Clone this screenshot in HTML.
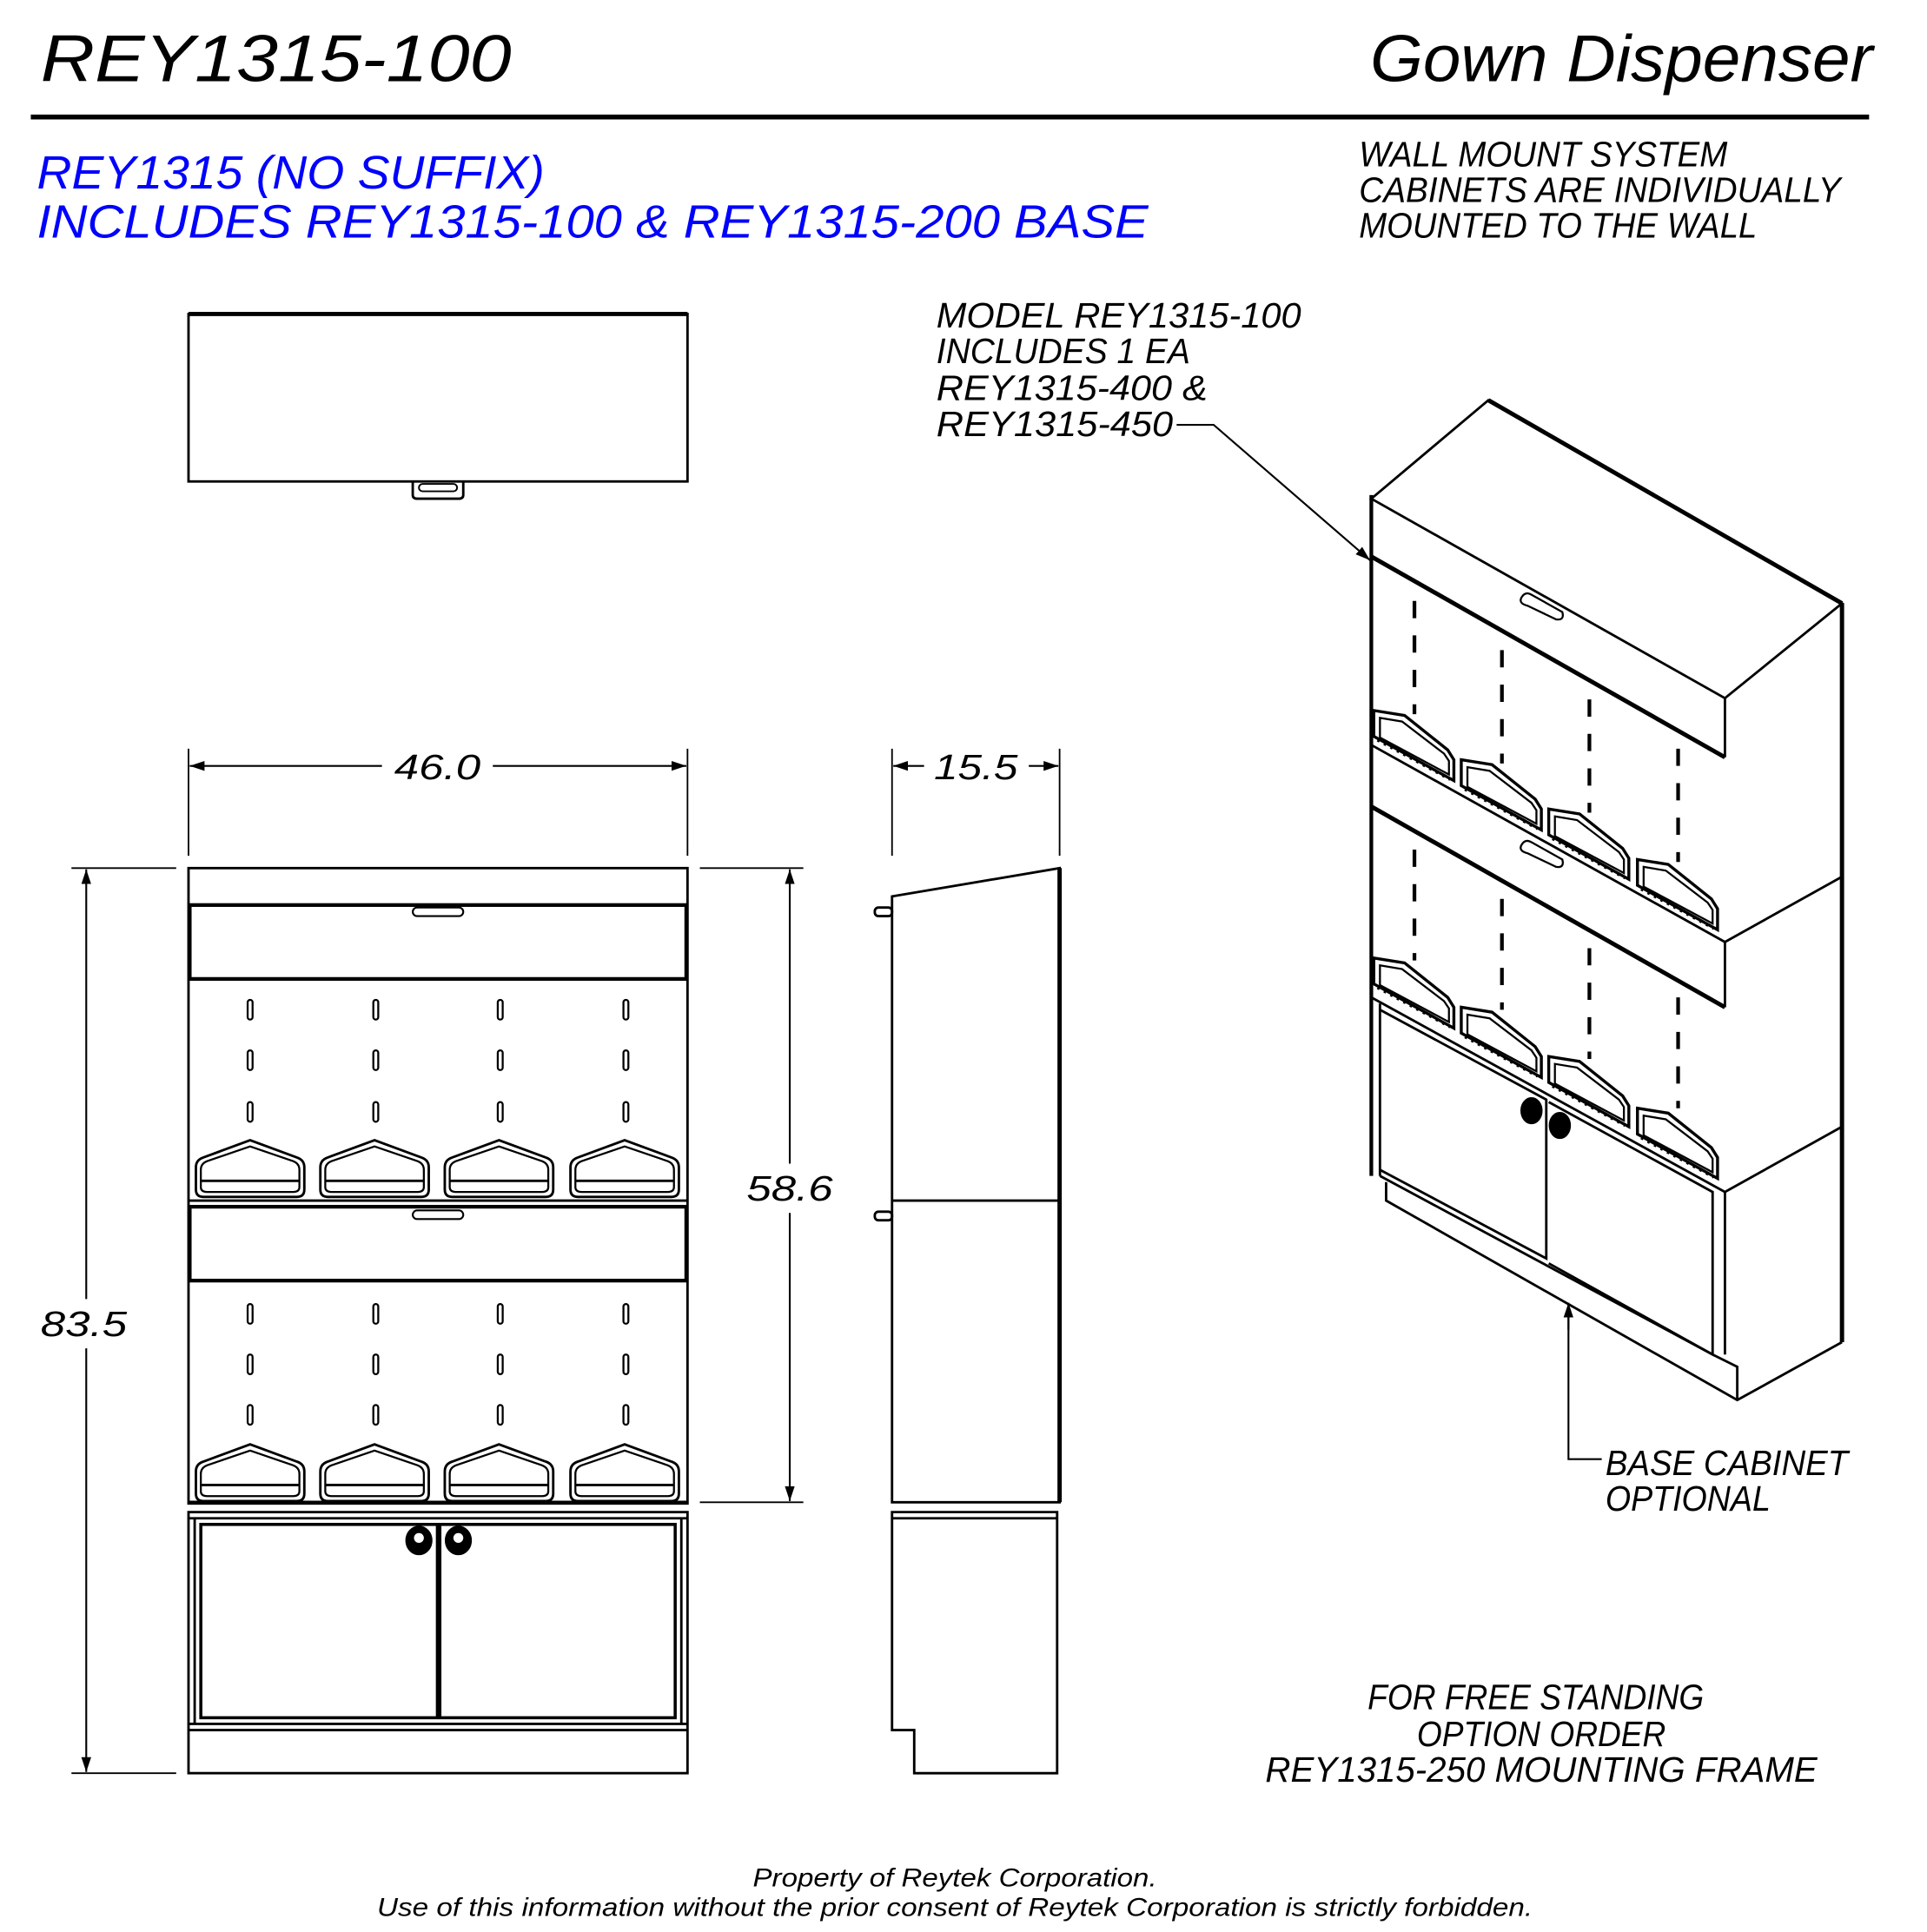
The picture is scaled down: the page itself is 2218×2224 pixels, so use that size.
<!DOCTYPE html>
<html><head><meta charset="utf-8"><style>html,body{margin:0;padding:0;background:#fff}svg{display:block}</style></head>
<body>
<svg width="2218" height="2224" viewBox="0 0 1564 1569" preserveAspectRatio="none" xmlns="http://www.w3.org/2000/svg">
<defs>
<marker id="ar" markerWidth="12" markerHeight="8" refX="12" refY="4" orient="auto" markerUnits="userSpaceOnUse"><path d="M0,0 L12,4 L0,8 z" fill="#000"/></marker>
<g id="tray">
<path d="M2,38 L2,20 Q2,14 8,12 L46,-2 L84,12 Q90,14 90,20 L90,38 Q90,44 84,44 L8,44 Q2,44 2,38 Z" fill="none" stroke="#000" stroke-width="2"/>
<path d="M6,36 L6,22 Q6,17 11,15 L46,3 L81,15 Q86,17 86,22 L86,36 Q86,40 81,40 L11,40 Q6,40 6,36 Z" fill="none" stroke="#000" stroke-width="1.6"/>
<line x1="6" y1="31" x2="86" y2="31" stroke="#000" stroke-width="2"/>
</g>
<g id="slot"><rect x="-2" y="0" width="4" height="16" rx="2" fill="none" stroke="#000" stroke-width="1.6"/></g>
<g id="itray" fill="none" stroke="#000">
<path d="M0,0 L25,4 L60,32 L65,40 L65,57 L0,21 Z" stroke-width="2.4"/>
<path d="M5,6 L23,9 L57,35 L61,41 L61,52 L5,22 Z" stroke-width="1.6"/>
<line x1="3" y1="24" x2="62" y2="56" stroke-width="2.5" stroke-dasharray="2 4"/>
</g>
</defs>
<g font-family="Liberation Sans, sans-serif" font-style="italic">
<text x="33" y="66" font-size="54" textLength="382" lengthAdjust="spacingAndGlyphs">REY1315-100</text>
<text x="1112" y="66" font-size="54" textLength="408" lengthAdjust="spacingAndGlyphs">Gown Dispenser</text>
<line x1="25" y1="95" x2="1517" y2="95" stroke="#000" stroke-width="4"/>
<g fill="#0000ff" font-size="38">
<text x="30" y="153" textLength="412" lengthAdjust="spacingAndGlyphs">REY1315 (NO SUFFIX)</text>
<text x="30" y="193" textLength="902" lengthAdjust="spacingAndGlyphs">INCLUDES REY1315-100 &amp; REY1315-200 BASE</text>
</g>
<g font-size="29">
<text x="1103" y="135" textLength="299" lengthAdjust="spacingAndGlyphs">WALL MOUNT SYSTEM</text>
<text x="1103" y="164" textLength="391" lengthAdjust="spacingAndGlyphs">CABINETS ARE INDIVIDUALLY</text>
<text x="1103" y="193" textLength="323" lengthAdjust="spacingAndGlyphs">MOUNTED TO THE WALL</text>
<text x="760" y="266" textLength="296" lengthAdjust="spacingAndGlyphs">MODEL REY1315-100</text>
<text x="760" y="295" textLength="206" lengthAdjust="spacingAndGlyphs">INCLUDES 1 EA</text>
<text x="760" y="325" textLength="220" lengthAdjust="spacingAndGlyphs">REY1315-400 &amp;</text>
<text x="760" y="354" textLength="192" lengthAdjust="spacingAndGlyphs">REY1315-450</text>
<text x="1303" y="1198" textLength="197" lengthAdjust="spacingAndGlyphs">BASE CABINET</text>
<text x="1303" y="1227" textLength="134" lengthAdjust="spacingAndGlyphs">OPTIONAL</text>
<text x="1110" y="1388" textLength="273" lengthAdjust="spacingAndGlyphs">FOR FREE STANDING</text>
<text x="1150" y="1418" textLength="202" lengthAdjust="spacingAndGlyphs">OPTION ORDER</text>
<text x="1027" y="1447" textLength="448" lengthAdjust="spacingAndGlyphs">REY1315-250 MOUNTING FRAME</text>
<text x="320" y="633" textLength="70" lengthAdjust="spacingAndGlyphs">46.0</text>
<text x="758" y="633" textLength="68" lengthAdjust="spacingAndGlyphs">15.5</text>
<text x="606" y="975" textLength="70" lengthAdjust="spacingAndGlyphs">58.6</text>
<text x="33" y="1085" textLength="70" lengthAdjust="spacingAndGlyphs">83.5</text>
</g>
<g font-size="21" text-anchor="middle">
<text x="775" y="1532" textLength="328" lengthAdjust="spacingAndGlyphs">Property of Reytek Corporation.</text>
<text x="775" y="1556" textLength="938" lengthAdjust="spacingAndGlyphs">Use of this information without the prior consent of Reytek Corporation is strictly forbidden.</text>
</g>
</g>

<g fill="none" stroke="#000" stroke-width="2">
<rect x="153" y="255" width="405" height="136"/>
<line x1="153" y1="255" x2="558" y2="255" stroke-width="3.5"/>
<path d="M335,391 L335,402 Q335,405 339,405 L372,405 Q376,405 376,402 L376,391"/>
<rect x="340" y="393" width="31" height="6" rx="3" stroke-width="1.4"/>

<path d="M955,345 L985,345 L1112,455" marker-end="url(#ar)" stroke-width="1.5"/>

<line x1="153" y1="608" x2="153" y2="695" stroke-width="1.3"/>
<line x1="558" y1="608" x2="558" y2="695" stroke-width="1.3"/>
<line x1="310" y1="622" x2="154" y2="622" marker-end="url(#ar)" stroke-width="1.5"/>
<line x1="400" y1="622" x2="557" y2="622" marker-end="url(#ar)" stroke-width="1.5"/>
<line x1="724" y1="608" x2="724" y2="695" stroke-width="1.3"/>
<line x1="860" y1="608" x2="860" y2="695" stroke-width="1.3"/>
<line x1="750" y1="622" x2="725" y2="622" marker-end="url(#ar)" stroke-width="1.5"/>
<line x1="835" y1="622" x2="859" y2="622" marker-end="url(#ar)" stroke-width="1.5"/>
<line x1="58" y1="705" x2="143" y2="705" stroke-width="1.3"/>
<line x1="58" y1="1440" x2="143" y2="1440" stroke-width="1.3"/>
<line x1="70" y1="1055" x2="70" y2="706" marker-end="url(#ar)" stroke-width="1.5"/>
<line x1="70" y1="1095" x2="70" y2="1439" marker-end="url(#ar)" stroke-width="1.5"/>
<line x1="568" y1="705" x2="652" y2="705" stroke-width="1.3"/>
<line x1="568" y1="1220" x2="652" y2="1220" stroke-width="1.3"/>
<line x1="641" y1="945" x2="641" y2="706" marker-end="url(#ar)" stroke-width="1.5"/>
<line x1="641" y1="985" x2="641" y2="1219" marker-end="url(#ar)" stroke-width="1.5"/>

<rect x="153" y="705" width="405" height="516"/>
<rect x="154" y="735" width="403" height="60" stroke-width="3"/>
<rect x="335" y="737" width="41" height="7" rx="3.5" stroke-width="1.5"/>
<line x1="153" y1="975" x2="558" y2="975" stroke-width="2"/>
<rect x="154" y="980" width="403" height="60" stroke-width="3"/>
<rect x="335" y="983" width="41" height="7" rx="3.5" stroke-width="1.5"/>
<line x1="153" y1="1220" x2="558" y2="1220" stroke-width="2.5"/>
<rect x="153" y="1228" width="405" height="212"/>
<line x1="153" y1="1233" x2="558" y2="1233"/>
<path d="M158,1233 L158,1400 M553,1233 L553,1400"/>
<rect x="163" y="1238" width="192" height="157" stroke-width="2.5"/>
<rect x="357" y="1238" width="191" height="157" stroke-width="2.5"/>
<line x1="153" y1="1400" x2="558" y2="1400"/>
<line x1="153" y1="1405" x2="558" y2="1405"/>
<ellipse cx="340" cy="1251" rx="10" ry="11" fill="#000"/>
<ellipse cx="372" cy="1251" rx="10" ry="11" fill="#000"/>
<circle cx="340" cy="1249" r="4" fill="#fff" stroke="none"/>
<circle cx="372" cy="1249" r="4" fill="#fff" stroke="none"/>

<path d="M724,728 L860,705 L860,1220 L724,1220 Z"/>
<line x1="860" y1="705" x2="860" y2="1220" stroke-width="3.5"/>
<line x1="724" y1="975" x2="860" y2="975"/>
<rect x="710" y="737" width="14" height="7" rx="3"/>
<rect x="710" y="984" width="14" height="7" rx="3"/>
<path d="M724,1228 L858,1228 L858,1440 L742,1440 L742,1405 L724,1405 Z"/>
<line x1="724" y1="1233" x2="858" y2="1233"/>

<path d="M1113,405 L1208,325 L1495,490 L1400,567 Z"/>
<line x1="1208" y1="325" x2="1495" y2="490" stroke-width="3.5"/>
<path d="M1400,567 L1400,615"/>
<line x1="1113" y1="452" x2="1400" y2="615" stroke-width="3.5"/>
<line x1="1495" y1="490" x2="1495" y2="1090" stroke-width="3.5"/>
<line x1="1113" y1="402" x2="1113" y2="955" stroke-width="3"/>
<path d="M1235,485 Q1238,480 1243,483 L1268,497 Q1270,504 1263,503 L1240,492 Q1232,490 1235,485 Z" stroke-width="1.6"/>
<line x1="1113" y1="605" x2="1400" y2="765"/>
<line x1="1113" y1="655" x2="1400" y2="818" stroke-width="3.5"/>
<line x1="1400" y1="765" x2="1400" y2="818"/>
<line x1="1400" y1="765" x2="1495" y2="712"/>
<path d="M1235,686 Q1238,681 1243,684 L1268,698 Q1270,705 1263,704 L1240,693 Q1232,691 1235,686 Z" stroke-width="1.6"/>
<g stroke-width="3" stroke-dasharray="14 14">
<line x1="1148" y1="488" x2="1148" y2="580"/>
<line x1="1219" y1="528" x2="1219" y2="620"/>
<line x1="1290" y1="568" x2="1290" y2="660"/>
<line x1="1362" y1="608" x2="1362" y2="700"/>
<line x1="1148" y1="690" x2="1148" y2="780"/>
<line x1="1219" y1="730" x2="1219" y2="820"/>
<line x1="1290" y1="770" x2="1290" y2="860"/>
<line x1="1362" y1="810" x2="1362" y2="900"/>
</g>
<path d="M1113,810 L1400,968 L1495,915"/>
<line x1="1120" y1="815" x2="1120" y2="955"/>
<path d="M1120,820 L1255,893 L1255,1022 L1120,950"/>
<path d="M1257,895 L1390,968 L1390,1100 L1257,1026"/>
<path d="M1120,955 L1390,1100"/>
<path d="M1125,960 L1125,975 L1410,1137 L1495,1090"/>
<path d="M1390,1100 L1410,1110 L1410,1137"/>
<line x1="1400" y1="968" x2="1400" y2="1100"/>
<ellipse cx="1243" cy="902" rx="8" ry="10" fill="#000"/>
<ellipse cx="1266" cy="914" rx="8" ry="10" fill="#000"/>
<path d="M1273,1060 L1273,1185 L1300,1185" stroke-width="1.5"/>
<line x1="1273" y1="1080" x2="1273" y2="1058" marker-end="url(#ar)" stroke-width="1.5"/>
</g>
<g>
<use href="#slot" x="203" y="812"/><use href="#slot" x="305" y="812"/><use href="#slot" x="406" y="812"/><use href="#slot" x="508" y="812"/>
<use href="#slot" x="203" y="853"/><use href="#slot" x="305" y="853"/><use href="#slot" x="406" y="853"/><use href="#slot" x="508" y="853"/>
<use href="#slot" x="203" y="895"/><use href="#slot" x="305" y="895"/><use href="#slot" x="406" y="895"/><use href="#slot" x="508" y="895"/>
<use href="#slot" x="203" y="1059"/><use href="#slot" x="305" y="1059"/><use href="#slot" x="406" y="1059"/><use href="#slot" x="508" y="1059"/>
<use href="#slot" x="203" y="1100"/><use href="#slot" x="305" y="1100"/><use href="#slot" x="406" y="1100"/><use href="#slot" x="508" y="1100"/>
<use href="#slot" x="203" y="1141"/><use href="#slot" x="305" y="1141"/><use href="#slot" x="406" y="1141"/><use href="#slot" x="508" y="1141"/>
<use href="#tray" x="157" y="928"/><use href="#tray" x="258" y="928"/><use href="#tray" x="359" y="928"/><use href="#tray" x="461" y="928"/>
<use href="#tray" x="157" y="1175"/><use href="#tray" x="258" y="1175"/><use href="#tray" x="359" y="1175"/><use href="#tray" x="461" y="1175"/>
<use href="#itray" x="1115" y="577"/><use href="#itray" x="1186" y="617"/><use href="#itray" x="1257" y="657"/><use href="#itray" x="1329" y="698"/>
<use href="#itray" x="1115" y="778"/><use href="#itray" x="1186" y="818"/><use href="#itray" x="1257" y="858"/><use href="#itray" x="1329" y="900"/>
</g>
</svg>
</body></html>
